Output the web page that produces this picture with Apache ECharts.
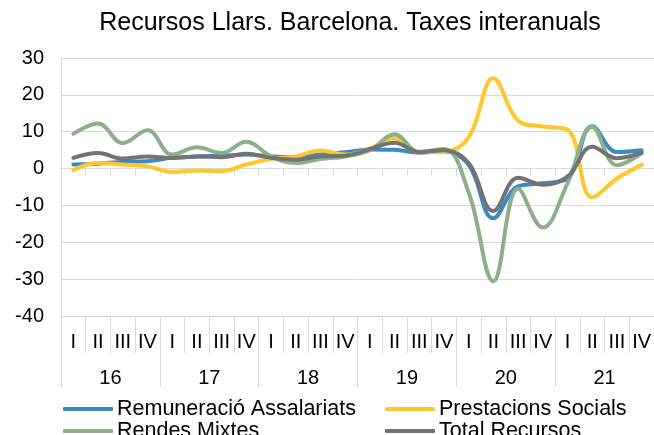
<!DOCTYPE html>
<html>
<head>
<meta charset="utf-8">
<script src="https://cdn.jsdelivr.net/npm/echarts@6/dist/echarts.min.js"></script>
<style>
html,body{margin:0;padding:0;background:#fff;}
#chart{width:654px;height:435px;}
</style>
</head>
<body>
<div id="chart"></div>
<script>
var quarters = ['I','II','III','IV','I','II','III','IV','I','II','III','IV','I','II','III','IV','I','II','III','IV','I','II','III','IV'];
var years = ['16','17','18','19','20','21'];
var remuneracio = [1.1, 1.3, 1.8, 2.0, 2.9, 3.3, 3.5, 3.8, 3.3, 3.1, 3.8, 4.4, 5.2, 5.1, 4.3, 4.7, 1.0, -13.5, -4.8, -4.0, -2.7, 11.5, 4.5, 5.0];
var prestacions = [-0.4, 1.5, 1.1, 0.6, -0.9, -0.5, -0.7, 1.1, 2.6, 3.3, 4.9, 3.8, 5.5, 8.3, 4.4, 4.5, 8.5, 24.5, 13.0, 11.4, 10.5, -7.8, -2.7, 1.0];
var rendesMixtes = [9.4, 12.2, 6.9, 10.4, 3.8, 5.8, 4.2, 7.3, 3.3, 1.5, 2.6, 3.3, 5.0, 9.3, 4.5, 5.3, -6.5, -30.6, -5.5, -16.0, -4.0, 11.3, 0.9, 4.1];
var totalRecursos = [2.9, 4.2, 2.7, 3.3, 2.9, 3.3, 3.1, 4.0, 2.9, 2.4, 3.3, 3.5, 5.3, 7.0, 4.5, 5.0, 1.5, -11.5, -2.5, -4.4, -2.2, 5.9, 2.8, 4.3];
var seriesNames = ['Remuneració Assalariats','Prestacions Socials','Rendes Mixtes','Total Recursos'];
var yTicks = {min: -40, max: 30, interval: 10};

var FONT = '"Liberation Sans", Arial, sans-serif';
var colors = ['#3b8ac6','#ffc72c','#8db08b','#737373'];
var values = [remuneracio, prestacions, rendesMixtes, totalRecursos];

function mkLegend(name, left, top){
  return {
    data: [name], left: left, top: top, icon: 'roundRect',
    itemWidth: 50, itemHeight: 4, itemGap: 0, padding: 0,
    textStyle: {fontFamily: FONT, fontSize: 21.5, color: '#000', padding: [0,0,0,-1]}
  };
}

var chart = echarts.init(document.getElementById('chart'), null, {renderer: 'canvas'});
chart.setOption({
  animation: false,
  backgroundColor: '#fff',
  title: {
    text: 'Recursos Llars. Barcelona. Taxes interanuals',
    left: 345, textAlign: 'center', top: 6,
    textStyle: {fontFamily: FONT, fontSize: 25, fontWeight: 'normal', color: '#000'}
  },
  legend: [
    mkLegend(seriesNames[0], 63, 398),
    mkLegend(seriesNames[1], 385, 398),
    mkLegend(seriesNames[2], 63, 420),
    mkLegend(seriesNames[3], 385, 420)
  ],
  grid: {left: 61, right: -10, top: 58, bottom: 119, containLabel: false},
  xAxis: [
    {
      type: 'category', data: quarters, position: 'bottom', boundaryGap: true,
      axisLine: {show: true, onZero: false, lineStyle: {color: '#d9d9d9', width: 1}},
      axisTick: {show: true, interval: 0, length: 37, lineStyle: {color: '#d9d9d9'}},
      axisLabel: {interval: 0, margin: 16, fontFamily: FONT, fontSize: 20, color: '#000'},
      splitLine: {show: false}
    },
    {
      type: 'category', data: years, position: 'bottom', boundaryGap: true, offset: 0,
      axisLine: {show: false, onZero: false},
      axisTick: {show: true, interval: 0, length: 71, lineStyle: {color: '#d9d9d9'}},
      axisLabel: {interval: 0, margin: 52, fontFamily: FONT, fontSize: 20, color: '#000'},
      splitLine: {show: false}
    },
    {
      type: 'category', data: quarters, position: 'bottom', boundaryGap: true,
      axisLine: {show: true, onZero: true, lineStyle: {color: '#d9d9d9', width: 1}},
      axisTick: {show: true, interval: 0, length: 7, lineStyle: {color: '#d9d9d9'}},
      axisLabel: {show: false},
      splitLine: {show: false}
    }
  ],
  yAxis: {
    type: 'value', min: yTicks.min, max: yTicks.max, interval: yTicks.interval,
    axisLine: {show: true, lineStyle: {color: '#d9d9d9'}},
    axisTick: {show: false},
    axisLabel: {margin: 17, fontFamily: FONT, fontSize: 20, color: '#000'},
    splitLine: {show: true, lineStyle: {color: '#d9d9d9', width: 1}}
  },
  series: seriesNames.map(function(n, i){
    return {
      name: n, type: 'line', xAxisIndex: 0, data: values[i],
      smooth: 0.4, symbol: 'none', color: colors[i],
      lineStyle: {width: 4, color: colors[i], cap: 'round', join: 'round'},
      z: 2 + i
    };
  })
});
</script>
</body>
</html>
